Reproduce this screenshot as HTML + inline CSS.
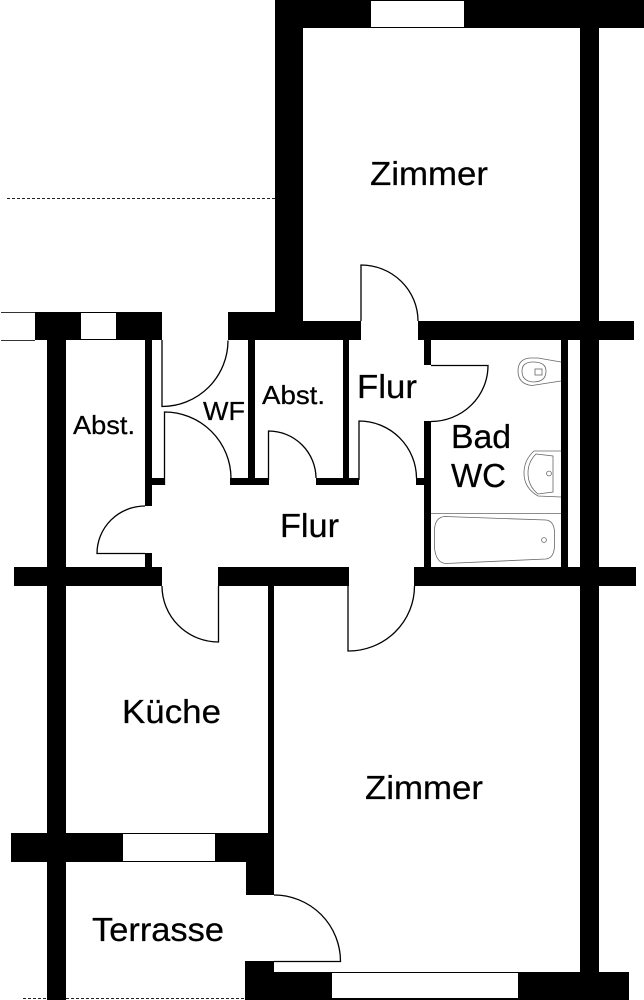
<!DOCTYPE html>
<html>
<head>
<meta charset="utf-8">
<style>
html,body{margin:0;padding:0;background:#fff;}
svg{display:block;}
text{font-family:"Liberation Sans",Arial,sans-serif;fill:#000;stroke:#000;stroke-width:0.25;}
</style>
</head>
<body>
<svg width="644" height="1000" viewBox="0 0 644 1000" xmlns="http://www.w3.org/2000/svg">
<rect width="644" height="1000" fill="#fff"/>
<g fill="#000" shape-rendering="crispEdges">
<!-- top room -->
<rect x="275" y="0" width="369" height="28"/>
<rect x="275" y="0" width="28" height="321"/>
<rect x="580" y="0" width="19" height="1000"/>
<!-- upper cross wall -->
<rect x="228" y="312" width="75" height="28"/>
<rect x="228" y="321" width="133" height="19"/>
<rect x="418" y="321" width="216" height="19"/>
<rect x="35" y="312" width="127" height="28"/>
<!-- left wall -->
<rect x="47" y="340" width="19" height="660"/>
<!-- thin walls -->
<rect x="145" y="340" width="7" height="145"/>
<rect x="145" y="478" width="20" height="7"/>
<rect x="145" y="478" width="7" height="28"/>
<rect x="145" y="553" width="7" height="14"/>
<rect x="248" y="340" width="7" height="140"/>
<rect x="230" y="478" width="39" height="7"/>
<rect x="316" y="478" width="43" height="7"/>
<rect x="343" y="340" width="6" height="140"/>
<rect x="416" y="478" width="10" height="7"/>
<rect x="424" y="340" width="7" height="25"/>
<rect x="424" y="421" width="7" height="146"/>
<rect x="561" y="340" width="7" height="227"/>
<!-- middle cross wall -->
<rect x="14" y="567" width="148" height="19"/>
<rect x="218" y="567" width="131" height="19"/>
<rect x="414" y="567" width="222" height="19"/>
<!-- kitchen / room divider -->
<rect x="268" y="586" width="6" height="250"/>
<!-- lower wall -->
<rect x="11" y="833" width="263" height="29"/>
<rect x="246" y="833" width="28" height="62"/>
<rect x="245" y="961" width="29" height="39"/>
<rect x="245" y="972" width="384" height="28"/>
<!-- white windows -->
<rect x="371" y="1" width="93" height="26" fill="#fff"/>
<rect x="81" y="313" width="35" height="26" fill="#fff"/>
<rect x="123" y="834" width="92" height="27" fill="#fff"/>
<rect x="332" y="973" width="186" height="25" fill="#fff"/>
</g>

<!-- window lines -->
<g fill="none" stroke="#333" stroke-width="1" shape-rendering="crispEdges">
<path d="M1 312.5H35M1 340.5H35"/>
</g>

<!-- doors -->
<g fill="none" stroke="#000" stroke-width="1.3">
<path d="M162 340V406.5A66 66 0 0 0 228 340.5"/>
<path d="M164.5 485V412A66.5 66.5 0 0 1 231 478"/>
<path d="M268.5 480V431A47.5 47.5 0 0 1 316 478"/>
<path d="M359 480V421A57.5 57.5 0 0 1 416.5 478"/>
<path d="M361 321V265A57 56 0 0 1 418 321"/>
<path d="M431 365.5H488A57 56 0 0 1 431 421.5"/>
<path d="M145 506A48 47.5 0 0 0 97 553.5H145"/>
<path d="M162 586A56.5 56 0 0 0 218.5 642V586"/>
<path d="M348 586V651A66 65 0 0 0 414.5 586"/>
<path d="M274 895A66.5 66.5 0 0 1 340.5 961.5H274"/>
</g>

<!-- dashed lines -->
<g stroke="#222" stroke-width="1" stroke-dasharray="3 2" fill="none" shape-rendering="crispEdges">
<path d="M7 198.5H275"/>
<path d="M23 998.5H47M66 998.5H245"/>
</g>

<!-- fixtures -->
<g fill="none" stroke="#666" stroke-width="0.8">
<path d="M431 513.5H561"/>
<path d="M445 516.5L546 520Q554 521 554.5 532V546Q554 558 546 559L446 563.5Q436 563 434.5 548V530Q435 517 445 516.5Z"/>
<circle cx="544" cy="540" r="2.4"/>
<path d="M561 362L538 358H530Q518 359 518 371Q518 384 532 385.5L561 381"/>
<path d="M533 362Q522 362 522 371Q522 381 533 382Q546 382 546 371Q546 362 533 362Z"/>
<rect x="535" y="369" width="7" height="6"/>
<path d="M561 451H534Q524 460 524 473Q524 488 538 496L561 497"/>
<path d="M536 454L553 456V492L538 494Q528 486 528 473Q528 462 536 454Z"/>
<circle cx="549" cy="473.5" r="2.4"/>
</g>

<!-- labels -->
<text x="370" y="185" font-size="33.5" textLength="118" lengthAdjust="spacingAndGlyphs">Zimmer</text>
<text x="365" y="799" font-size="33.5" textLength="118" lengthAdjust="spacingAndGlyphs">Zimmer</text>
<text x="122" y="723" font-size="33.5" textLength="99" lengthAdjust="spacingAndGlyphs">Küche</text>
<text x="92" y="941" font-size="33" textLength="132" lengthAdjust="spacingAndGlyphs">Terrasse</text>
<text x="280" y="537" font-size="33" textLength="59" lengthAdjust="spacingAndGlyphs">Flur</text>
<text x="357" y="398" font-size="33" textLength="60" lengthAdjust="spacingAndGlyphs">Flur</text>
<text x="451" y="448" font-size="33" textLength="60" lengthAdjust="spacingAndGlyphs">Bad</text>
<text x="451" y="487" font-size="33" textLength="55" lengthAdjust="spacingAndGlyphs">WC</text>
<text x="73" y="434" font-size="26" textLength="62" lengthAdjust="spacingAndGlyphs">Abst.</text>
<text x="262" y="404" font-size="26" textLength="63" lengthAdjust="spacingAndGlyphs">Abst.</text>
<text x="203" y="420" font-size="26" textLength="42" lengthAdjust="spacingAndGlyphs">WF</text>
</svg>
</body>
</html>
